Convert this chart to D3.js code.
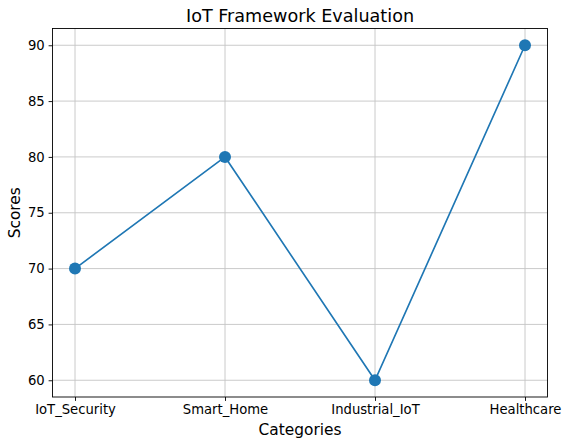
<!DOCTYPE html>
<html>
<head>
<meta charset="utf-8">
<script src="https://cdn.jsdelivr.net/npm/d3@7"></script>
<style>
  body { margin: 0; background: #fff; }
  text { font-family: "DejaVu Sans", sans-serif; fill: #000; }
</style>
</head>
<body>
<div id="chart"></div>
<script>
var categories = ["IoT_Security", "Smart_Home", "Industrial_IoT", "Healthcare"];
var scores = [70, 80, 60, 90];
var yTicks = [60, 65, 70, 75, 80, 85, 90];

var width = 570, height = 446,
    margin = {left: 52.5, right: 22.5, top: 28.5, bottom: 49};

var svg = d3.select("#chart").append("svg")
    .attr("width", width)
    .attr("height", height);

var innerW = width - margin.left - margin.right,
    innerH = height - margin.top - margin.bottom;

var chart = svg.append("g")
    .attr("transform", "translate(" + margin.left + "," + margin.top + ")");

// categories sit at 0..3 with a 0.15 margin on each side, like matplotlib
var x = d3.scalePoint()
    .domain(categories)
    .range([innerW * 0.15 / 3.3, innerW - innerW * 0.15 / 3.3])
    .padding(0);

var y = d3.scaleLinear()
    .domain([58.5, 91.5])
    .range([innerH, 0]);

// grid
chart.append("g").selectAll("line").data(categories).enter().append("line")
    .attr("x1", function (d) { return x(d); })
    .attr("x2", function (d) { return x(d); })
    .attr("y1", 0).attr("y2", innerH)
    .attr("stroke", "#c4c4c4").attr("stroke-width", 0.9);
chart.append("g").selectAll("line").data(yTicks).enter().append("line")
    .attr("y1", function (d) { return y(d); })
    .attr("y2", function (d) { return y(d); })
    .attr("x1", 0).attr("x2", innerW)
    .attr("stroke", "#c4c4c4").attr("stroke-width", 0.9);

// axes
var xAxis = chart.append("g")
    .attr("transform", "translate(0," + innerH + ")")
    .call(d3.axisBottom(x).tickSizeOuter(0).tickSize(3.9).tickPadding(3.9));
var yAxis = chart.append("g")
    .call(d3.axisLeft(y).tickValues(yTicks).tickSizeOuter(0).tickSize(3.9).tickPadding(3.9));
[xAxis, yAxis].forEach(function (a) {
  a.select(".domain").remove();
  a.selectAll("text").style("font-family", "DejaVu Sans").style("font-size", "13.2px");
  a.selectAll("line").attr("stroke", "#000").attr("stroke-width", 0.9);
});

// frame
chart.append("rect")
    .attr("width", innerW).attr("height", innerH)
    .attr("fill", "none").attr("stroke", "#000").attr("stroke-width", 0.9);

// line + markers
var line = d3.line()
    .x(function (d, i) { return x(categories[i]); })
    .y(function (d) { return y(d); });

chart.append("path")
    .datum(scores)
    .attr("d", line)
    .attr("fill", "none")
    .attr("stroke", "#1f77b4")
    .attr("stroke-width", 1.65);

chart.selectAll("circle").data(scores).enter().append("circle")
    .attr("cx", function (d, i) { return x(categories[i]); })
    .attr("cy", function (d) { return y(d); })
    .attr("r", 6)
    .attr("fill", "#1f77b4");

// labels
svg.append("text")
    .attr("x", margin.left + innerW / 2).attr("y", 22)
    .attr("text-anchor", "middle").style("font-size", "17.6px")
    .text("IoT Framework Evaluation");
svg.append("text")
    .attr("x", margin.left + innerW / 2).attr("y", 435)
    .attr("text-anchor", "middle").style("font-size", "15.4px")
    .text("Categories");
svg.append("text")
    .attr("transform", "translate(19.5," + (margin.top + innerH / 2) + ") rotate(-90)")
    .attr("text-anchor", "middle").style("font-size", "15.4px")
    .text("Scores");
</script>
</body>
</html>
